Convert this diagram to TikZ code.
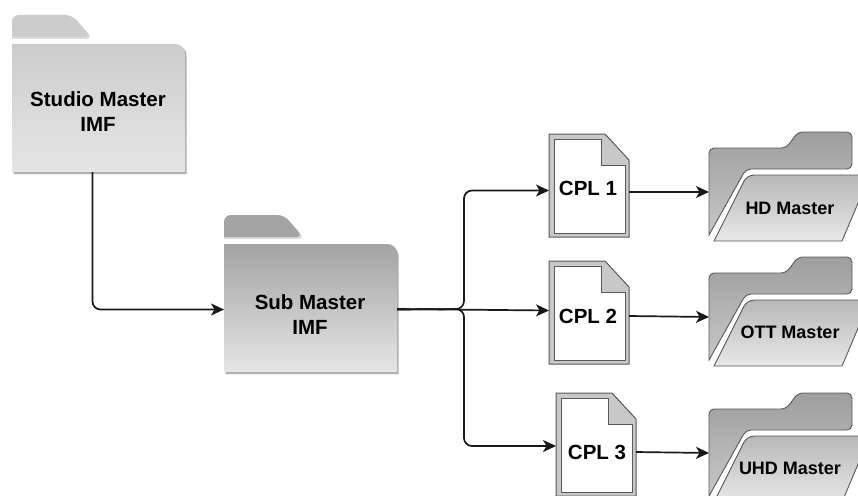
\documentclass[tikz,border=0pt]{standalone}
\usepackage{fontspec}
\setmainfont{Liberation Sans}
\usetikzlibrary{arrows.meta,positioning}
\definecolor{myedge}{RGB}{88,88,88}
\definecolor{mypaper}{RGB}{200,200,200}

\begin{document}
\begin{tikzpicture}[
  x=1pt,
  y=-1pt,
  myarrow/.style={
    draw=black!90,
    line width=1.7pt,
    rounded corners=8pt,
    -{Stealth[length=13pt,width=12pt,inset=3.5pt]}
    },
  mylabel/.style={
    font=\bfseries\fontsize{20.5}{25}\selectfont,
    align=center,
    inner sep=0pt
    },
  mysmalllabel/.style={
    font=\bfseries\fontsize{18}{22}\selectfont,
    inner sep=0pt
    },
  mybox/.style={
    inner sep=0pt,
    outer sep=0pt
    },
  pics/imffolder/.style 2 args={
    code={
      \fill[black!14,rounded corners=7pt] (0,24) -- (0,0) -- (60,0) -- (81,24) [sharp corners] -- cycle;
      \fill[#1,rounded corners=7pt] (0,22) -- (0,0) -- (60,0) -- (79,22) [sharp corners] -- cycle;
      \fill[black!32,shift={(1.5,2)}] (0,157) -- (0,29) -- (163,29)
        .. controls (169,29) and (173,33) .. (173,39) -- (173,157) -- cycle;
      \path[top color=#1,bottom color=#2] (0,157) -- (0,29) -- (163,29)
        .. controls (169,29) and (173,33) .. (173,39) -- (173,157) -- cycle;
      \node[mybox,minimum width=173pt,minimum height=128pt] (-box) at (86.5,93) {};
    }
  },
  pics/cplpage/.style={
    code={
      \draw[myedge,fill=mypaper,line width=1pt] (0,0) -- (56,0) -- (80,26) -- (80,103) -- (0,103) -- cycle;
      \draw[myedge,fill=white,line width=1pt] (5,5) -- (52,5) -- (52,31) -- (76,31) -- (76,99) -- (5,99) -- cycle;
      \node[mybox,minimum width=80pt,minimum height=103pt] (-box) at (40,51.5) {};
    }
  },
  pics/masterfolder/.style={
    code={
      \draw[myedge,line width=0.9pt,top color=black!38,bottom color=black!22]
        (0,103) [rounded corners=5pt] -- (0,16) -- (77,16) -- (89,0) -- (143,0) -- (143,37) -- (37,37) [sharp corners] -- cycle;
      \draw[myedge,line width=0.9pt,top color=black!28,bottom color=black!9]
        (5,109) [rounded corners=7pt] -- (38,43) [sharp corners] -- (161,43) -- (133,109) -- cycle;
      \node[mybox,minimum width=143pt,minimum height=103pt] (-box) at (71.5,51.5) {};
    }
  }
]

\clip (0,0) rectangle (858,495);

\pic (studio) at (12,15) {imffolder={black!20}{black!10}};
\node[mylabel] (studiolabel) at (98,111.5) {Studio Master\\IMF};

\pic (sub) at (224,215) {imffolder={black!36}{black!10}};
\node[mylabel] (sublabel) at (310,315) {Sub Master\\IMF};

\coordinate (junction) at (464,309);

\foreach \Valor/\Px/\Py/\Tx/\Ty/\Fy/\Ly/\Name [count=\Valori from 1] in {
  1/549/134/588/188/132/208/HD Master,
  2/549/261/588/316/257/332/OTT Master,
  3/556/393/597/452/393/468/UHD Master}
{
  \pic (cpl\Valori) at (\Px,\Py) {cplpage};
  \node[mylabel] (cpl\Valori label) at (\Tx,\Ty) {CPL \Valor};
  \pic (master\Valori) at (709,\Fy) {masterfolder};
  \node[mysmalllabel] (master\Valori label) at (790,\Ly) {\Name};
}

\draw[myarrow] ([xshift=-6pt]studio-box.south) |- ([yshift=-1.5pt]sub-box.west);

\draw[myarrow] ([yshift=-1.5pt]sub-box.east) -- (junction) |- ([yshift=-5pt]cpl1-box.west);
\draw[myarrow] ([yshift=-1pt]sub-box.east) -- ([yshift=2pt]cpl2-box.west);
\draw[myarrow] ([yshift=-1.5pt]sub-box.east) -- (junction) |- ([yshift=-1.5pt]cpl3-box.west);

\draw[myarrow] ([yshift=-6.5pt]cpl1-box.east) -- ([yshift=-8.5pt]master1-box.west);
\draw[myarrow] ([yshift=-3.5pt]cpl2-box.east) -- ([yshift=-8.5pt]master2-box.west);
\draw[myarrow] ([yshift=-7.5pt]cpl3-box.east) -- ([yshift=-8.5pt]master3-box.west);

\end{tikzpicture}
\end{document}
